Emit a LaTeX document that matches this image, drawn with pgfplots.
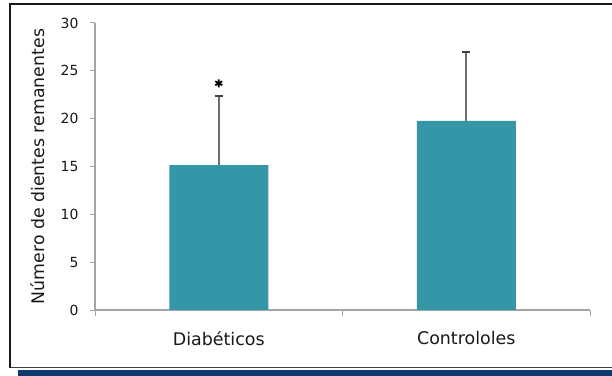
\documentclass[border=0pt]{standalone}
\usepackage{fontspec}
\setmainfont{DejaVu Sans}
\usepackage{pgfplots}
\pgfplotsset{compat=1.18}
\definecolor{barteal}{RGB}{52,150,166}
\definecolor{navy}{RGB}{16,58,110}
\definecolor{axgray}{RGB}{165,165,165}
\definecolor{errgray}{RGB}{110,110,110}
\begin{document}
\begin{tikzpicture}
\useasboundingbox (0,0) rectangle (612bp,376bp);
\fill[white] (0,0) rectangle (612bp,376bp);
\fill[navy] (18bp,0) rectangle (612bp,6bp);
\draw[line width=1bp, black!75] (10bp,8bp) -- (612bp,8bp);
\draw[line width=1.3bp, black!90] (10bp,8bp) -- (10bp,372bp) -- (612bp,372bp);
\begin{axis}[
  at={(95bp,66bp)}, anchor=south west,
  scale only axis, width=495bp, height=287bp,
  xmin=-0.5, xmax=1.5, ymin=0, ymax=30,
  axis x line*=bottom, axis y line*=left,
  axis line style={axgray, line width=1.2bp, -},
  xtick={0,1}, xticklabels={Diabéticos, Controloles},
  major x tick style={draw=none},
  minor xtick={-0.5,0.5,1.5},
  minor tick length=6bp,
  ytick={0,5,...,30},
  major tick length=5bp,
  tick align=outside,
  tick style={axgray, line width=1bp},
  /pgf/number format/assume math mode=true,
  yticklabel style={font=\fontsize{14}{16}\selectfont, text=black!90, xshift=-8bp},
  xticklabel style={font=\fontsize{17.5}{20}\selectfont, text=black!90, yshift=-13bp},
  ylabel={Número de dientes remanentes},
  ylabel style={at={(axis description cs:-0.115,0.5)}, anchor=center, font=\fontsize{17.4}{20}\selectfont, text=black!90},
]
\addplot[ybar, bar width=0.4, fill=barteal, draw=none,
  error bars/.cd, y dir=plus, y explicit,
  error bar style={errgray, line width=2bp},
  error mark options={rotate=90, mark size=4bp, line width=2bp, errgray!60!black}]
  coordinates {(0,15.15) +- (0,7.2) (1,19.76) +- (0,7.25)};
\addplot[only marks, mark=asterisk, mark size=4bp, mark options={line width=1.8bp, black}]
  coordinates {(0,23.7)};
\end{axis}
\end{tikzpicture}
\end{document}
